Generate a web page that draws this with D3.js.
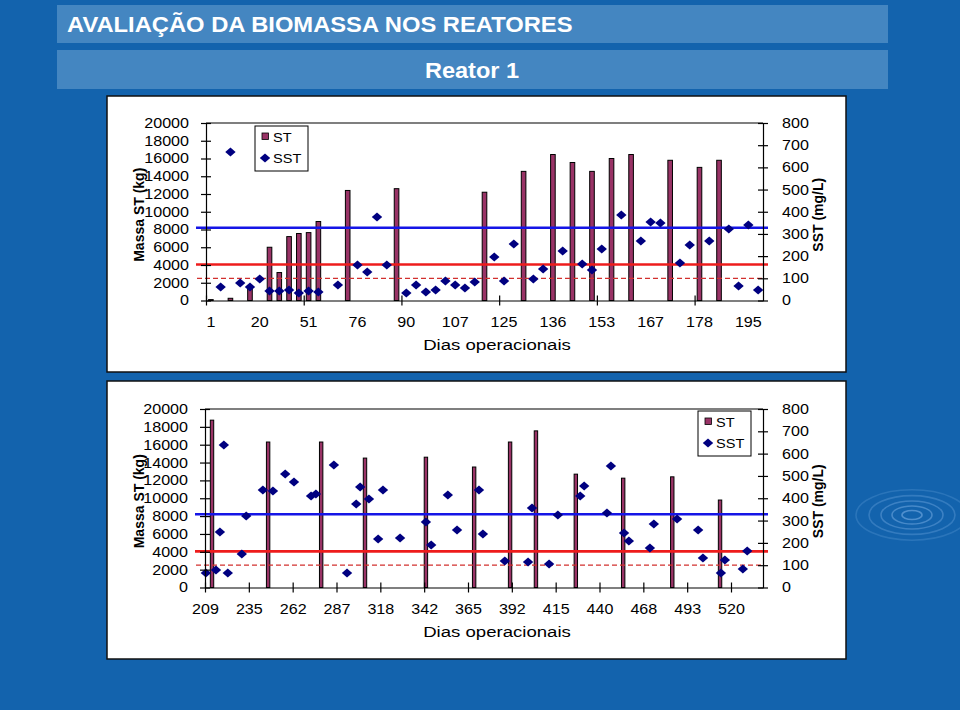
<!DOCTYPE html>
<html><head><meta charset="utf-8">
<script src="https://cdn.jsdelivr.net/npm/d3@7"></script>
<style>html,body{margin:0;padding:0;background:#1363ad;} svg{display:block;font-family:"Liberation Sans",Arial,sans-serif;}</style>
</head><body>
<svg id="c" width="960" height="710"></svg>
<script>
// ---------------- DATA ----------------
const titleText = "AVALIAÇÃO DA BIOMASSA NOS REATORES";
const subtitleText = "Reator 1";
const leftAxisTitle = "Massa ST (kg)";
const rightAxisTitle = "SST (mg/L)";
const xAxisTitle = "Dias operacionais";
const seriesNames = ["ST", "SST"];

const leftTicks = [0, 2000, 4000, 6000, 8000, 10000, 12000, 14000, 16000, 18000, 20000];
const rightTicks = [0, 100, 200, 300, 400, 500, 600, 700, 800];
// reference lines (in ST kg units)
const refBlue = 8200;
const refRed = 4050;
const refDashed = 2500;

// Top chart: 57 categories, day labels every 5th category
const topCategories = d3.range(57);
const topDayLabels = ["1", "20", "51", "76", "90", "107", "125", "136", "153", "167", "178", "195"];
const topStIdx = [0, 2, 4, 6, 7, 8, 9, 10, 11, 14, 19, 28, 32, 35, 37, 39, 41, 43, 47, 50, 52];
const topStVal = [100, 250, 1400, 6000, 3150, 7200, 7550, 7650, 8900, 12400, 12600, 12200, 14550, 16450, 15550, 14550, 16000, 16450, 15800, 15000, 15800];
const topSstIdx = [1, 2, 3, 4, 5, 6, 7, 8, 9, 10, 11, 13, 15, 16, 17, 18, 20, 21, 22, 23, 24, 25, 26, 27, 29, 30, 31, 33, 34, 36, 38, 39, 40, 42, 44, 45, 46, 48, 49, 51, 53, 54, 55, 56];
const topSstVal = [61, 669, 79, 61, 97, 43, 43, 47, 34, 43, 38, 70, 160, 128, 376, 160, 34, 70, 38, 47, 88, 70, 56, 83, 196, 88, 255, 97, 142, 223, 165, 137, 232, 385, 268, 354, 349, 169, 250, 268, 322, 65, 340, 47];

// Bottom chart: category positions (label every 10 categories)
const botDayLabels = ["209", "235", "262", "287", "318", "342", "365", "392", "415", "440", "468", "493", "520"];
const botCategoryCount = 127.3;
const botStPos = [1.6, 14.4, 26.5, 36.5, 50.4, 61.4, 69.6, 75.5, 84.6, 95.4, 106.6, 117.5];
const botStVal = [18750, 16300, 16300, 14500, 14600, 13500, 16300, 17550, 12700, 12250, 12400, 9800];
const botSstPos = [0.2, 2.5, 3.4, 4.3, 5.2, 8.4, 9.4, 13.2, 15.5, 18.3, 20.3, 24.2, 25.3, 29.4, 32.4, 34.5, 35.4, 37.4, 39.5, 40.6, 44.5, 50.4, 51.6, 55.4, 57.5, 62.5, 63.4, 68.4, 73.7, 74.6, 78.5, 80.5, 85.6, 86.5, 91.7, 92.6, 95.6, 96.7, 101.5, 102.4, 107.7, 112.5, 113.6, 117.7, 118.6, 122.7, 123.7];
const botSstVal = [65, 78, 249, 639, 65, 150, 320, 437, 433, 509, 473, 410, 419, 549, 65, 374, 450, 397, 217, 437, 222, 294, 190, 415, 258, 437, 240, 119, 114, 356, 105, 325, 410, 455, 334, 545, 244, 208, 177, 285, 307, 258, 132, 65, 123, 83, 164];

// ---------------- DRAW ----------------
const svg = d3.select("#c");
const BG = "#1363ad", BAND = "#4486c1";
const BAR_FILL = "#993366", NAVY = "#000080";
const SX = 1.15;

svg.append("rect").attr("width", 960).attr("height", 710).attr("fill", BG);
// decorative ripples
const rip = svg.append("g").attr("fill", "none");
[10, 20, 31, 43, 56].forEach((r, i) => {
  rip.append("ellipse").attr("cx", 912).attr("cy", 515).attr("rx", r).attr("ry", r * 0.45)
    .attr("stroke", "rgba(170,210,255," + (0.4 - i * 0.06) + ")").attr("stroke-width", 1.6);
});

// header bands
svg.append("rect").attr("x", 57).attr("y", 5).attr("width", 831).attr("height", 38).attr("fill", BAND);
svg.append("rect").attr("x", 57).attr("y", 50).attr("width", 831).attr("height", 39).attr("fill", BAND);
svg.append("text").attr("transform", "translate(67,32) scale(1.08,1)")
  .attr("fill", "#fff").attr("font-size", 22).attr("font-weight", "bold").text(titleText);
svg.append("text").attr("transform", "translate(472,78) scale(1.07,1)").attr("text-anchor", "middle")
  .attr("fill", "#fff").attr("font-size", 22).attr("font-weight", "bold").text(subtitleText);

function stretch(sel, s) {
  sel.each(function () {
    const t = d3.select(this);
    const x = +t.attr("x") || 0;
    t.attr("x", x / s).attr("transform", `scale(${s},1)`);
  });
}

function diamond(g, x, y) {
  g.append("path").attr("d", "M0,-4.5L5.2,0L0,4.5L-5.2,0Z")
    .attr("transform", `translate(${x},${y})`).attr("fill", NAVY);
}

function drawChart(cfg) {
  const { panel, x0, x1, yTop, yBot } = cfg;
  svg.append("rect").attr("x", panel[0]).attr("y", panel[1]).attr("width", panel[2]).attr("height", panel[3])
    .attr("fill", "#fff").attr("stroke", "#111").attr("stroke-width", 1.5);
  const g = svg.append("g");
  const yL = d3.scaleLinear().domain([0, 20000]).range([yBot, yTop]);
  const yR = d3.scaleLinear().domain([0, 800]).range([yBot, yTop]);

  // plot top border
  g.append("line").attr("x1", x0).attr("x2", x1).attr("y1", yTop).attr("y2", yTop)
    .attr("stroke", "#555").attr("stroke-width", 1.5);

  // bars
  const barsG = g.append("g");
  cfg.stX.forEach((xc, i) => {
    const v = cfg.stV[i];
    barsG.append("rect").attr("x", xc - cfg.barW / 2).attr("y", yL(v))
      .attr("width", cfg.barW).attr("height", Math.max(0.8, yL(0) - yL(v)))
      .attr("fill", BAR_FILL).attr("stroke", "#000").attr("stroke-width", 1);
  });

  // reference lines
  g.append("line").attr("x1", x0 - 9).attr("x2", x1).attr("y1", yL(refDashed)).attr("y2", yL(refDashed))
    .attr("stroke", "#d2302e").attr("stroke-width", 1.2).attr("stroke-dasharray", "5,3");
  g.append("line").attr("x1", x0 - 10).attr("x2", x1 + 5).attr("y1", yL(refRed)).attr("y2", yL(refRed))
    .attr("stroke", "#ee1c1c").attr("stroke-width", 2.6);
  g.append("line").attr("x1", x0 - 10).attr("x2", x1 + 5).attr("y1", yL(refBlue)).attr("y2", yL(refBlue))
    .attr("stroke", "#1515e6").attr("stroke-width", 2.6);

  // diamonds
  const dG = g.append("g");
  cfg.sstX.forEach((xc, i) => diamond(dG, xc, yR(cfg.sstV[i])));

  // axes
  const aL = g.append("g").attr("transform", `translate(${x0},0)`)
    .call(d3.axisLeft(yL).tickValues(leftTicks).tickFormat(d3.format("d")).tickSizeOuter(0));
  aL.selectAll(".tick line").attr("x1", -5).attr("x2", 5);
  aL.selectAll(".tick text").attr("x", -17);
  const aR = g.append("g").attr("transform", `translate(${x1},0)`)
    .call(d3.axisRight(yR).tickValues(rightTicks).tickSizeOuter(0));
  aR.selectAll(".tick line").attr("x1", -5).attr("x2", 5);
  aR.selectAll(".tick text").attr("x", 19);

  const aB = g.append("g").attr("transform", `translate(0,${yBot})`).call(cfg.labelAxis);
  aB.selectAll(".tick text").attr("y", 17);
  if (cfg.tickAxis) {
    aB.selectAll(".tick line").remove();
    const aT = g.append("g").attr("transform", `translate(0,${yBot})`).call(cfg.tickAxis);
    aT.selectAll(".tick text").remove();
    aT.selectAll(".tick line").attr("y1", -5).attr("y2", 5);
    aT.select(".domain").remove();
  } else {
    aB.selectAll(".tick line").attr("y1", -5).attr("y2", 5);
  }
  [aL, aR, aB].forEach(a => {
    a.selectAll(".domain").attr("stroke", "#000").attr("stroke-width", 1.2);
    a.selectAll(".tick text").attr("font-size", 14).attr("fill", "#000").attr("font-family", '"Liberation Sans",Arial,sans-serif');
    stretch(a.selectAll(".tick text"), SX);
  });
  g.selectAll(".tick line").attr("stroke", "#000").attr("stroke-width", 1.2);

  // axis titles
  g.append("text").attr("transform", `translate(${139},${(yTop + yBot) / 2 + 3}) rotate(-90)`)
    .attr("text-anchor", "middle").attr("dominant-baseline", "central")
    .attr("font-size", 14).attr("font-weight", "bold").text(leftAxisTitle);
  g.append("text").attr("transform", `translate(${818},${(yTop + yBot) / 2 + 3}) rotate(-90)`)
    .attr("text-anchor", "middle").attr("dominant-baseline", "central")
    .attr("font-size", 14).attr("font-weight", "bold").text(rightAxisTitle);
  g.append("text").attr("transform", `translate(${497},${yBot + 49}) scale(1.24,1)`)
    .attr("text-anchor", "middle").attr("font-size", 15).text(xAxisTitle);

  // legend
  const [lx, ly] = cfg.legend;
  const lg = g.append("g").attr("transform", `translate(${lx},${ly})`);
  lg.append("rect").attr("width", 53).attr("height", 45).attr("fill", "#fff").attr("stroke", "#000").attr("stroke-width", 1);
  lg.append("rect").attr("x", 7).attr("y", 7).attr("width", 6.5).attr("height", 6.5).attr("fill", BAR_FILL).attr("stroke", "#000").attr("stroke-width", 0.8);
  diamond(lg, 10, 32);
  lg.append("text").attr("transform", "translate(18,16) scale(1.12,1)").attr("font-size", 13).text(seriesNames[0]);
  lg.append("text").attr("transform", "translate(18,37) scale(1.12,1)").attr("font-size", 13).text(seriesNames[1]);
}

// top chart scales
const xTop = d3.scaleBand().domain(topCategories).range([206, 763]).padding(0);
const xTopLin = d3.scaleLinear().domain([0, topCategories.length]).range([206, 763]);
const cTop = i => xTop(i) + xTop.bandwidth() / 2;
drawChart({
  panel: [107, 96, 739, 276], x0: 206, x1: 763, yTop: 123, yBot: 300.5,
  stX: topStIdx.map(cTop), stV: topStVal, barW: 4.6,
  sstX: topSstIdx.map(cTop), sstV: topSstVal,
  labelAxis: d3.axisBottom(xTop).tickValues(d3.range(0, 57, 5)).tickFormat(i => topDayLabels[i / 5]).tickSizeOuter(0),
  tickAxis: d3.axisBottom(xTopLin).tickValues(d3.range(0, 57, 10)).tickSizeOuter(0),
  legend: [255, 126]
});

// bottom chart scales
const xBot = d3.scaleLinear().domain([0, botCategoryCount]).range([205, 763]);
drawChart({
  panel: [107, 381, 739, 278], x0: 205, x1: 763, yTop: 409, yBot: 587.5,
  stX: botStPos.map(xBot), stV: botStVal, barW: 3.4,
  sstX: botSstPos.map(xBot), sstV: botSstVal,
  labelAxis: d3.axisBottom(xBot).tickValues(d3.range(0, 121, 10)).tickFormat(i => botDayLabels[i / 10]).tickSizeOuter(0),
  tickAxis: null,
  legend: [698, 411]
});
</script>
</body></html>
